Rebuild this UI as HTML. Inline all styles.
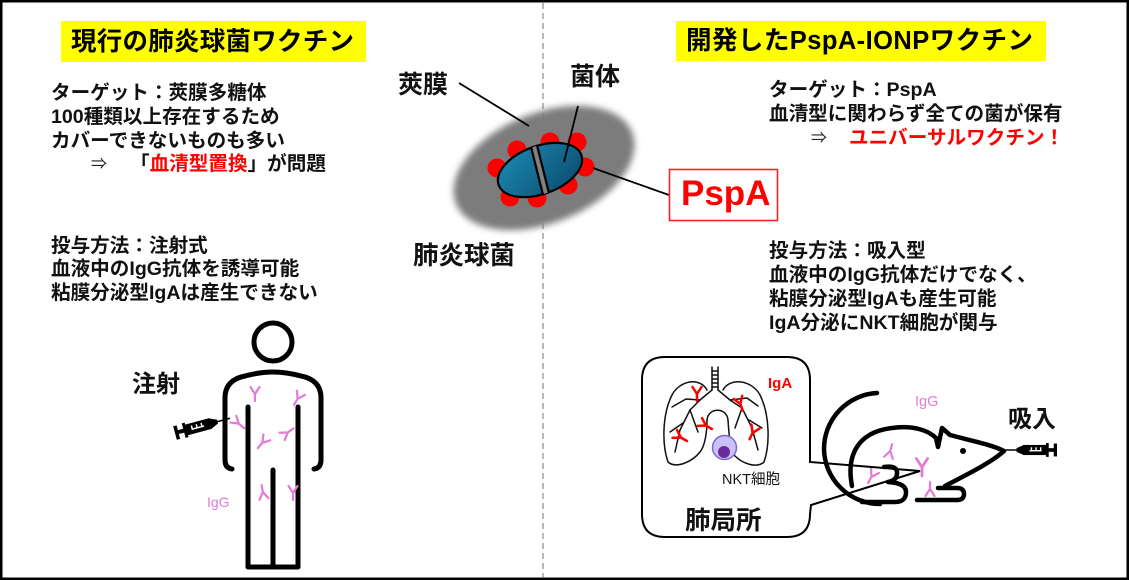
<!DOCTYPE html>
<html>
<head>
<meta charset="utf-8">
<style>
html,body{margin:0;padding:0;background:#fff;}
svg{display:block;}
text{font-family:"Liberation Sans","Noto Sans CJK JP",sans-serif;}
</style>
</head>
<body>
<svg width="1129" height="580" viewBox="0 0 1129 580" xmlns="http://www.w3.org/2000/svg">
<defs>
  <filter id="blur" x="-40%" y="-40%" width="180%" height="180%"><feGaussianBlur stdDeviation="3.5"/></filter>
  <linearGradient id="bg" x1="0" y1="0" x2="1" y2="1">
    <stop offset="0" stop-color="#1d8ab4"/>
    <stop offset="1" stop-color="#0a4a6c"/>
  </linearGradient>
  <clipPath id="bc"><ellipse cx="0" cy="0" rx="44" ry="24"/></clipPath>
</defs>

<rect x="0" y="0" width="1129" height="580" fill="#fff"/>

<!-- dashed divider -->
<line x1="543" y1="3" x2="543" y2="577" stroke="#a0a0a0" stroke-width="1.5" stroke-dasharray="6,4"/>

<!-- titles -->
<rect x="61" y="21" width="305" height="41" fill="#ffff00"/>
<text x="71" y="50" font-size="25.5" font-weight="bold" textLength="283" lengthAdjust="spacing">現行の肺炎球菌ワクチン</text>
<rect x="676" y="21" width="370" height="40" fill="#ffff00"/>
<text x="686" y="49" font-size="25.5" font-weight="bold" textLength="347" lengthAdjust="spacing">開発したPspA-IONPワクチン</text>

<!-- left text -->
<g font-size="19.6" font-weight="bold" fill="#111">
  <text x="51" y="99">ターゲット：莢膜多糖体</text>
  <text x="51" y="123">100種類以上存在するため</text>
  <text x="51" y="147">カバーできないものも多い</text>
  <text x="130" y="170">「<tspan fill="#ff0000">血清型置換</tspan>」が問題</text>
  <text x="51" y="252">投与方法：注射式</text>
  <text x="51" y="275">血液中のIgG抗体を誘導可能</text>
  <text x="51" y="299">粘膜分泌型IgAは産生できない</text>
</g>
<text x="91" y="169" font-size="16" fill="#222">⇒</text>

<!-- right text -->
<g font-size="19.6" font-weight="bold" fill="#111">
  <text x="769" y="96">ターゲット：PspA</text>
  <text x="769" y="120">血清型に関わらず全ての菌が保有</text>
  <text x="849" y="144" fill="#ff0000">ユニバーサルワクチン！</text>
  <text x="769" y="257">投与方法：吸入型</text>
  <text x="769" y="281">血液中のIgG抗体だけでなく、</text>
  <text x="769" y="305">粘膜分泌型IgAも産生可能</text>
  <text x="769" y="329">IgA分泌にNKT細胞が関与</text>
</g>
<text x="811" y="143" font-size="16" fill="#222">⇒</text>

<!-- bacterium -->
<ellipse cx="544" cy="168" rx="95" ry="55" transform="rotate(-22 544 168)" fill="#7c7c7c" filter="url(#blur)"/>
<g fill="#ff0000">
  <circle cx="517" cy="150" r="9.5"/>
  <circle cx="550" cy="142" r="9.5"/>
  <circle cx="577" cy="142" r="9.5"/>
  <circle cx="585" cy="167" r="9.5"/>
  <circle cx="568" cy="185" r="9.5"/>
  <circle cx="537" cy="198" r="9.5"/>
  <circle cx="510" cy="197" r="9.5"/>
  <circle cx="497" cy="168" r="9.5"/>
</g>
<g transform="translate(540,170) rotate(-20)">
  <ellipse rx="44" ry="24" fill="url(#bg)" stroke="#000" stroke-width="2.2"/>
  <g clip-path="url(#bc)">
    <line x1="0" y1="-30" x2="0" y2="30" transform="rotate(6)" stroke="#000" stroke-width="8.5"/>
    <line x1="0" y1="-30" x2="0" y2="30" transform="rotate(6)" stroke="#808080" stroke-width="4"/>
  </g>
</g>
<g stroke="#000" stroke-width="1.8" fill="none">
  <line x1="459" y1="83" x2="529" y2="126"/>
  <line x1="578" y1="106" x2="564" y2="162"/>
  <line x1="593" y1="168" x2="669" y2="195"/>
</g>
<g font-weight="bold" fill="#111">
  <text x="398" y="93" font-size="25">莢膜</text>
  <text x="570" y="85" font-size="25">菌体</text>
  <text x="413" y="264" font-size="25.5">肺炎球菌</text>
</g>

<!-- PspA box -->
<rect x="669.5" y="169.5" width="108" height="51" fill="#fff" stroke="#ff2020" stroke-width="1.6"/>
<text x="681" y="205" font-size="35" font-weight="bold" fill="#ff0000">PspA</text>

<!-- human -->
<g stroke="#000" stroke-width="5" fill="none" stroke-linecap="round" stroke-linejoin="round">
  <circle cx="273" cy="342" r="19"/>
  <path d="M232,469 Q225,468 225,460 L225,398 Q225,380 245,376 Q260,372 273,372 Q286,372 301,376 Q321,380 321,398 L321,460 Q321,468 314,469"/>
  <path d="M248,407 L248,567 L298,567 L298,407"/>
  <path d="M273,470 L273,567"/>
</g>
<!-- human syringe -->
<g transform="translate(175,433) rotate(-15)">
  <rect x="0" y="-7" width="3.5" height="14" fill="#000"/>
  <rect x="3" y="-2" width="7" height="4" fill="#000"/>
  <rect x="9" y="-7.5" width="3" height="15" fill="#000"/>
  <rect x="11" y="-5.5" width="26" height="11" fill="#000"/>
  <g fill="#fff">
    <rect x="17" y="-3" width="1.5" height="4.5"/>
    <rect x="22" y="-3" width="1.5" height="4.5"/>
    <rect x="27" y="-3" width="1.5" height="4.5"/>
    <rect x="17" y="0" width="13" height="1.5"/>
  </g>
  <polygon points="36,-5.5 44,-2 44,2 36,5.5" fill="#000"/>
  <line x1="43" y1="0" x2="57" y2="0" stroke="#000" stroke-width="1.6"/>
</g>
<text x="132" y="392" font-size="24" font-weight="bold" fill="#111">注射</text>
<!-- IgG antibodies (human) -->
<g stroke="#e37ad8" stroke-width="2.2" fill="none" stroke-linecap="round">
  <path transform="translate(255,393)" d="M0,1V8M0,1L-4.5,-6M0,1L4.5,-6"/>
  <path transform="translate(298,398) rotate(30)" d="M0,1V8M0,1L-4.5,-6M0,1L4.5,-6"/>
  <path transform="translate(238,423) rotate(-50)" d="M0,1V8M0,1L-4.5,-6M0,1L4.5,-6"/>
  <path transform="translate(287,433) rotate(-125)" d="M0,1V8M0,1L-4.5,-6M0,1L4.5,-6"/>
  <path transform="translate(263,442) rotate(40)" d="M0,1V8M0,1L-4.5,-6M0,1L4.5,-6"/>
  <path transform="translate(263,493) rotate(170)" d="M0,1V8M0,1L-4.5,-6M0,1L4.5,-6"/>
  <path transform="translate(293,492)" d="M0,1V8M0,1L-4.5,-6M0,1L4.5,-6"/>
</g>
<text x="207" y="507" font-size="14" fill="#e37ad8">IgG</text>

<!-- mouse -->
<g stroke="#000" stroke-width="4.5" fill="none" stroke-linecap="round" stroke-linejoin="round">
  <path d="M877,393 A56,56 0 0 0 824,449 A56,56 0 0 0 880,504"/>
  <path d="M852,486 C846,455 858,432 892,428 C912,425 928,430 936,438 L938,447 L942,428 L950,435 C968,440 990,444 1004,451 C992,462 968,474 945,486"/>
  <path d="M938,488 L957,488 Q964,488 964,494 Q964,500 957,500 L917,500"/>
  <path d="M884,467 Q898,465 897,474 Q896,481 888,482 Q906,483 906,492 Q906,502 895,502 L862,502"/>
</g>
<circle cx="963" cy="451" r="3" fill="#000"/>
<!-- mouse syringe -->
<g transform="translate(1057,450) scale(-0.92,0.92)">
  <rect x="0" y="-7" width="3.5" height="14" fill="#000"/>
  <rect x="3" y="-2" width="7" height="4" fill="#000"/>
  <rect x="9" y="-7.5" width="3" height="15" fill="#000"/>
  <rect x="11" y="-5.5" width="26" height="11" fill="#000"/>
  <g fill="#fff">
    <rect x="17" y="-3" width="1.5" height="4.5"/>
    <rect x="22" y="-3" width="1.5" height="4.5"/>
    <rect x="27" y="-3" width="1.5" height="4.5"/>
    <rect x="17" y="0" width="13" height="1.5"/>
  </g>
  <polygon points="36,-5.5 44,-2 44,2 36,5.5" fill="#000"/>
  <line x1="43" y1="0" x2="57" y2="0" stroke="#000" stroke-width="1.6"/>
</g>
<text x="1008" y="427" font-size="24" font-weight="bold" fill="#111">吸入</text>
<g stroke="#e37ad8" stroke-width="2.2" fill="none" stroke-linecap="round">
  <path transform="translate(890,452) rotate(195)" d="M0,1V8M0,1L-4.5,-6M0,1L4.5,-6"/>
  <path transform="translate(922,466) scale(1.25)" d="M0,1V8M0,1L-4.5,-6M0,1L4.5,-6"/>
  <path transform="translate(872,476) rotate(30)" d="M0,1V8M0,1L-4.5,-6M0,1L4.5,-6"/>
  <path transform="translate(930,490) rotate(180)" d="M0,1V8M0,1L-4.5,-6M0,1L4.5,-6"/>
</g>
<text x="915" y="406" font-size="14.5" fill="#e37ad8">IgG</text>

<!-- callout -->
<path d="M665,357 L787,357 Q810,357 810,380 L810,462 L920,471 L811,505 L810,514 Q810,537 787,537 L665,537 Q642,537 642,514 L642,380 Q642,357 665,357 Z" fill="none" stroke="#000" stroke-width="2"/>

<!-- lungs -->
<g stroke="#111" stroke-width="1.5" fill="none" stroke-linecap="round" stroke-linejoin="round">
  <line x1="712" y1="367" x2="712" y2="390"/>
  <line x1="718" y1="367" x2="718" y2="390"/>
  <line x1="712" y1="371" x2="718" y2="371"/>
  <line x1="712" y1="375" x2="718" y2="375"/>
  <line x1="712" y1="379" x2="718" y2="379"/>
  <line x1="712" y1="383" x2="718" y2="383"/>
  <line x1="712" y1="387" x2="718" y2="387"/>
  <path d="M707,390 C700,377 680,380 672,395 C662,415 662,445 668,462 C676,469 692,462 700,452 C705,446 707,432 707,420"/>
  <path d="M707,420 C708,407 727,407 728,420"/>
  <path d="M723,390 C730,377 752,380 760,395 C770,415 770,445 764,462 C756,469 742,463 735,456 C730,450 729,435 728,420"/>
  <path d="M712,390 L700,400 L690,410 L680,430 L675,452"/>
  <path d="M700,400 L686,399 L672,407"/>
  <path d="M690,410 L698,432"/>
  <path d="M683,423 L670,432"/>
  <path d="M718,390 L730,400 L742,408 L752,428 L758,450"/>
  <path d="M730,400 L747,398 L758,406"/>
  <path d="M742,408 L735,428"/>
  <path d="M749,420 L762,428"/>
</g>
<g stroke="#ff0000" stroke-width="2.5" fill="none" stroke-linecap="round">
  <path transform="translate(697,393)" d="M0,1V8M0,1L-4.5,-6M0,1L4.5,-6"/>
  <path transform="translate(740,403) rotate(-20)" d="M0,1V8M0,1L-4.5,-6M0,1L4.5,-6"/>
  <path transform="translate(705,425) rotate(-60)" d="M0,1V8M0,1L-4.5,-6M0,1L4.5,-6"/>
  <path transform="translate(680,437) rotate(-60)" d="M0,1V8M0,1L-4.5,-6M0,1L4.5,-6"/>
  <path transform="translate(753,432) rotate(25)" d="M0,1V8M0,1L-4.5,-6M0,1L4.5,-6"/>
</g>
<circle cx="724.5" cy="447.5" r="12" fill="#c9c3f5" stroke="#7a6ad0" stroke-width="1.5"/>
<circle cx="724" cy="452" r="6" fill="#6b2a9e"/>
<text x="768" y="388" font-size="15" font-weight="bold" fill="#ff0000">IgA</text>
<text x="722" y="484" font-size="14.5" fill="#111">NKT細胞</text>
<text x="685" y="529" font-size="25.5" font-weight="bold" fill="#111">肺局所</text>

<!-- frame -->
<rect x="1.25" y="1.25" width="1126.5" height="577.5" fill="none" stroke="#000" stroke-width="2.5"/>
</svg>
</body>
</html>
